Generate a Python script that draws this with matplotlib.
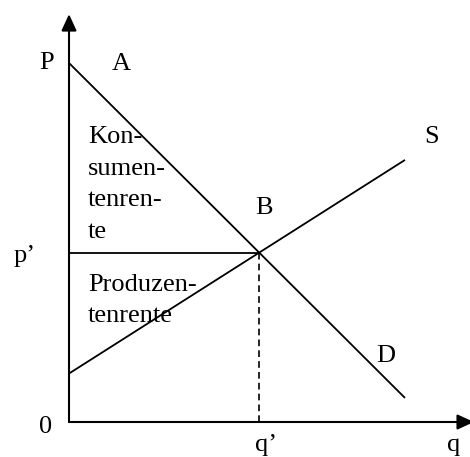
import matplotlib
matplotlib.use("Agg")
import matplotlib.pyplot as plt

# ============ Daten =============
# Nachfrage (D) und Angebot (S), Endpunkte in Mengen-/Preiseinheiten
demand_q = [0.0, 10.0]
demand_p = [10.0, 0.67]
supply_q = [0.0, 10.0]
supply_p = [1.35, 7.3]

# Gleichgewicht B = Schnittpunkt der beiden Geraden
d_slope = (demand_p[1] - demand_p[0]) / (demand_q[1] - demand_q[0])
s_slope = (supply_p[1] - supply_p[0]) / (supply_q[1] - supply_q[0])
eq_q = (supply_p[0] - demand_p[0]) / (d_slope - s_slope)
eq_p = demand_p[0] + d_slope * eq_q

konsum_lines = ["Kon-", "sumen-", "tenren-", "te"]
produz_lines = ["Produzen-", "tenrente"]

# ============ Plot =============
plt.rcParams["font.family"] = ["Liberation Serif", "DejaVu Serif"]
FS = 19

fig = plt.figure(figsize=(4.7, 4.57), dpi=100)
ax = fig.add_axes([0, 0, 1, 1])
ax.set_xlim(-2.054, 11.935)
ax.set_ylim(-0.975, 11.755)
ax.axis("off")

# Achsen mit Pfeilen
arrow = dict(arrowstyle="-|>,head_length=0.5,head_width=0.23",
             color="black", lw=1.5, mutation_scale=20, shrinkA=0, shrinkB=0)
ax.annotate("", xy=(0, 11.36), xytext=(0, 0), arrowprops=arrow, annotation_clip=False)
ax.annotate("", xy=(12.05, 0), xytext=(0, 0), arrowprops=arrow, annotation_clip=False)

# Kurven
ax.plot(demand_q, demand_p, color="black", lw=1.3, solid_capstyle="butt")
ax.plot(supply_q, supply_p, color="black", lw=1.3, solid_capstyle="butt")
ax.plot([0, eq_q], [eq_p, eq_p], color="black", lw=1.3)
ax.plot([eq_q, eq_q], [0, eq_p], color="black", lw=1.2, linestyle=(0, (4, 2.5)))

# Beschriftungen
ax.text(-0.655, demand_p[0], "P", fontsize=FS, ha="center", va="center")
ax.text(1.55, 9.97, "A", fontsize=FS, ha="center", va="center")
ax.text(eq_q + 0.14, eq_p + 1.24, "B", fontsize=FS, ha="center", va="center")
ax.text(10.80, 7.94, "S", fontsize=FS, ha="center", va="center")
ax.text(9.43, 1.67, "D", fontsize=FS, ha="center", va="baseline")
ax.text(-1.31, 4.46, "p’", fontsize=FS, ha="center", va="baseline")
ax.text(-0.685, -0.31, "0", fontsize=FS, ha="center", va="baseline")
ax.text(5.86, -0.80, "q’", fontsize=FS, ha="center", va="baseline")
ax.text(11.46, -0.80, "q", fontsize=FS, ha="center", va="baseline")

for i, line in enumerate(konsum_lines):
    ax.text(0.565, 7.77 - i * 0.877, line, fontsize=FS, ha="left", va="baseline")
for i, line in enumerate(produz_lines):
    ax.text(0.565, 3.65 - i * 0.877, line, fontsize=FS, ha="left", va="baseline")

fig.savefig("out.png", dpi=100)
